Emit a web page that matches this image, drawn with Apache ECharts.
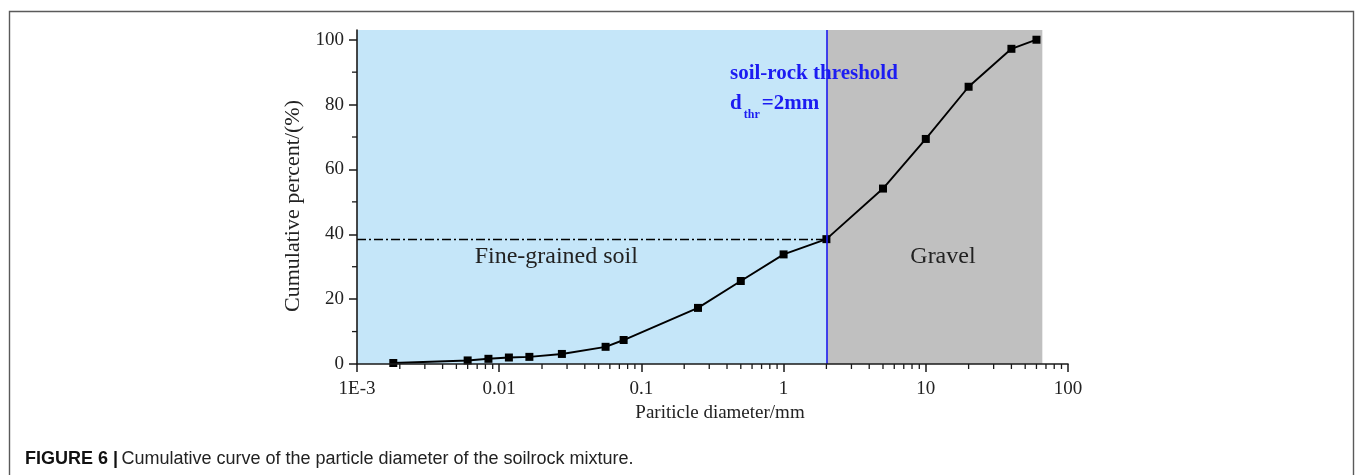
<!DOCTYPE html>
<html>
<head>
<meta charset="utf-8">
<title>Cumulative curve of particle diameter</title>
<script src="https://cdn.jsdelivr.net/npm/echarts@6/dist/echarts.min.js"></script>
<style>
  html, body { margin: 0; padding: 0; background: #ffffff; }
  #chart { width: 1355px; height: 475px; }
</style>
</head>
<body>
<div id="chart"></div>
<script>
// Grading data: particle diameter (mm) and cumulative percent passing (%)
const diameters = [0.0018, 0.006, 0.0084, 0.0117, 0.0163, 0.0276, 0.056, 0.075, 0.25, 0.5, 1, 2, 5, 10, 20, 40, 60];
const percents  = [0.3, 1.1, 1.6, 2.0, 2.2, 3.1, 5.3, 7.4, 17.3, 25.6, 33.8, 38.5, 54.1, 69.4, 85.5, 97.2, 100];

// Soil-rock threshold and zone limits
const thresholdDiameter = 2;       // mm
const thresholdPercent = 38.5;     // % finer at the threshold
const xMin = 0.001, xMax = 100;
const yMin = 0, yMax = 103;
const gravelUpper = 66;            // right edge of the gravel zone, mm

// Tick values
const yMajorTicks = [0, 20, 40, 60, 80, 100];
const yMinorTicks = [10, 30, 50, 70, 90];
const xDecades = [0.001, 0.01, 0.1, 1, 10];
const xMinorTicks = [];
xDecades.forEach(function (d) {
  for (let k = 2; k <= 9; k++) xMinorTicks.push(+(d * k).toPrecision(3));
});

const serif = '"Liberation Serif", "Times New Roman", serif';
const sans = '"Liberation Sans", Arial, sans-serif';
const axisColor = '#1a1a1a';
const blue = '#1c1cf2';

const chart = echarts.init(document.getElementById('chart'), null, { renderer: 'canvas' });

function minorTickX(params, api) {
  const p = api.coord([api.value(0), yMin]);
  return { type: 'line', shape: { x1: p[0], y1: p[1], x2: p[0], y2: p[1] + 5 },
           style: { stroke: axisColor, lineWidth: 1.3 } };
}
function minorTickY(params, api) {
  const p = api.coord([xMin, api.value(1)]);
  return { type: 'line', shape: { x1: p[0], y1: p[1], x2: p[0] - 5, y2: p[1] },
           style: { stroke: axisColor, lineWidth: 1.3 } };
}

const option = {
  backgroundColor: '#ffffff',
  animation: false,
  grid: { left: 357, right: 287, top: 30, bottom: 111 },
  xAxis: {
    type: 'log',
    logBase: 10,
    min: xMin,
    max: xMax,
    z: 5,
    name: 'Pariticle diameter/mm',
    nameLocation: 'middle',
    nameGap: 37,
    nameTextStyle: { fontFamily: serif, fontSize: 19, color: '#222', padding: [0, 0, 0, 15] },
    axisLine: { show: true, lineStyle: { color: axisColor, width: 1.6 } },
    axisTick: { show: true, inside: false, length: 8, lineStyle: { color: axisColor, width: 1.5 } },
    minorTick: { show: false },
    splitLine: { show: false },
    axisLabel: {
      margin: 16,
      fontFamily: serif,
      fontSize: 19,
      color: '#222',
      formatter: function (v) {
        if (Math.abs(v - 0.001) < 1e-9) return '1E-3';
        return String(+v.toPrecision(6));
      }
    }
  },
  yAxis: {
    type: 'value',
    min: yMin,
    max: yMax,
    interval: 20,
    z: 5,
    name: 'Cumulative percent/(%)',
    nameLocation: 'middle',
    nameGap: 52,
    nameTextStyle: { fontFamily: serif, fontSize: 22, color: '#222', padding: [0, 18, 0, 0] },
    axisLine: { show: true, lineStyle: { color: axisColor, width: 1.6 } },
    axisTick: { show: true, inside: false, length: 8, customValues: yMajorTicks,
                lineStyle: { color: axisColor, width: 1.5 } },
    splitLine: { show: false },
    axisLabel: {
      margin: 13,
      fontFamily: serif,
      fontSize: 19,
      color: '#222',
      customValues: yMajorTicks
    }
  },
  series: [
    {
      name: 'Cumulative percent',
      type: 'line',
      data: diameters.map(function (d, i) { return [d, percents[i]]; }),
      symbol: 'rect',
      symbolSize: 8,
      z: 4,
      itemStyle: { color: '#000000' },
      lineStyle: { color: '#000000', width: 1.9 },
      markArea: {
        silent: true,
        z: 1,
        data: [
          [ { coord: [xMin, yMin], itemStyle: { color: '#c5e6f9' } }, { coord: [thresholdDiameter, yMax] } ],
          [ { coord: [thresholdDiameter, yMin], itemStyle: { color: '#c0c0c0' } }, { coord: [gravelUpper, yMax] } ]
        ]
      },
      markLine: {
        silent: true,
        symbol: ['none', 'none'],
        label: { show: false },
        data: [
          { xAxis: thresholdDiameter, lineStyle: { color: blue, width: 1.6, type: 'solid' } },
          [
            { coord: [xMin, thresholdPercent], lineStyle: { color: '#000', width: 1.3, type: [9, 3, 2, 3] } },
            { coord: [thresholdDiameter, thresholdPercent] }
          ]
        ]
      },
      markPoint: {
        silent: true,
        symbol: 'circle',
        symbolSize: 0,
        data: [
          { coord: [0.0252, 33.2], label: { show: true, position: 'inside', formatter: 'Fine-grained soil',
            fontFamily: serif, fontSize: 24, color: '#222' } },
          { coord: [13.2, 33.2], label: { show: true, position: 'inside', formatter: 'Gravel',
            fontFamily: serif, fontSize: 24, color: '#222' } },
          { coord: [0.42, 84.5], label: {
              show: true, position: 'right', distance: 0,
              formatter: '{t|soil-rock threshold}\n{t|d}{s|thr}{t|=2mm}',
              rich: {
                t: { fontFamily: serif, fontSize: 21, fontWeight: 'bold', color: blue, lineHeight: 28 },
                s: { fontFamily: serif, fontSize: 12, fontWeight: 'bold', color: blue, padding: [21, 2, 0, 2] }
              }
          } }
        ]
      }
    },
    {
      name: 'x minor ticks',
      type: 'custom',
      silent: true,
      z: 6,
      renderItem: minorTickX,
      data: xMinorTicks.map(function (v) { return [v, yMin]; })
    },
    {
      name: 'y minor ticks',
      type: 'custom',
      silent: true,
      z: 6,
      renderItem: minorTickY,
      data: yMinorTicks.map(function (v) { return [xMin, v]; })
    }
  ],
  graphic: [
    {
      type: 'rect',
      silent: true,
      shape: { x: 9.5, y: 11.5, width: 1344, height: 520 },
      style: { fill: 'none', stroke: '#5a5a5a', lineWidth: 1.4 }
    },
    {
      type: 'text',
      silent: true,
      left: 25,
      top: 450,
      style: {
        text: '{b|FIGURE 6 |} {r|Cumulative curve of the particle diameter of the soilrock mixture.}',
        rich: {
          b: { fontFamily: sans, fontSize: 18, fontWeight: 'bold', fill: '#111' },
          r: { fontFamily: sans, fontSize: 18, fill: '#222' }
        }
      }
    }
  ]
};

chart.setOption(option);
</script>
</body>
</html>
